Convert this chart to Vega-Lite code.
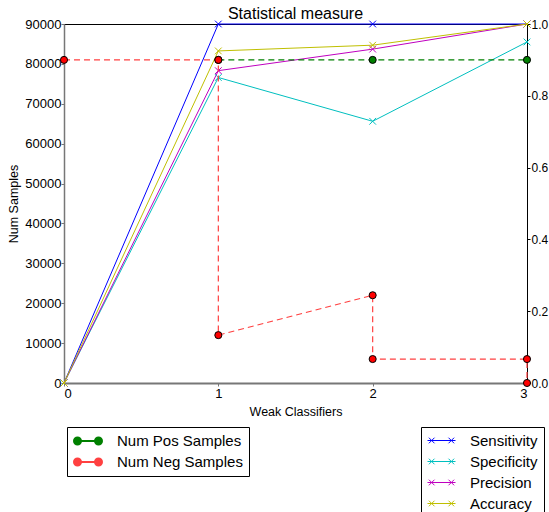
{
  "$schema": "https://vega.github.io/schema/vega-lite/v6.json",
  "autosize": {"type": "none"},
  "width": 463,
  "height": 359,
  "padding": {"left": 64, "top": 24, "right": 22, "bottom": 129},
  "background": "white",
  "config": {
    "font": "Liberation Sans",
    "view": {"stroke": "black", "strokeWidth": 1},
    "axis": {"grid": false, "labelFont": "Liberation Sans", "titleFont": "Liberation Sans", "labelColor": "black", "titleColor": "black", "titleFontWeight": "normal", "labelFontSize": 13, "titleFontSize": 12.5, "tickSize": 3}
  },
  "title": {"text": "Statistical measure", "font": "Liberation Sans", "fontSize": 16, "fontWeight": "normal", "color": "black", "offset": -4, "frame": "group"},
  "datasets": {
    "samples": [
      {"x": 1, "v": 81000, "s": "Num Pos Samples", "o": 1},
      {"x": 2, "v": 81000, "s": "Num Pos Samples", "o": 2},
      {"x": 3, "v": 81000, "s": "Num Pos Samples", "o": 3},
      {"x": 0, "v": 81000, "s": "Num Neg Samples", "o": 0},
      {"x": 1, "v": 81000, "s": "Num Neg Samples", "o": 1},
      {"x": 1, "v": 12000, "s": "Num Neg Samples", "o": 2},
      {"x": 2, "v": 22000, "s": "Num Neg Samples", "o": 3},
      {"x": 2, "v": 6000, "s": "Num Neg Samples", "o": 4},
      {"x": 3, "v": 6000, "s": "Num Neg Samples", "o": 5},
      {"x": 3, "v": 0, "s": "Num Neg Samples", "o": 6}
    ],
    "metrics": [
      {"x": 0, "m": 0, "s": "Sensitivity"},
      {"x": 1, "m": 1.0, "s": "Sensitivity"},
      {"x": 2, "m": 1.0, "s": "Sensitivity"},
      {"x": 3, "m": 1.0, "s": "Sensitivity"},
      {"x": 0, "m": 0, "s": "Specificity"},
      {"x": 1, "m": 0.851, "s": "Specificity"},
      {"x": 2, "m": 0.729, "s": "Specificity"},
      {"x": 3, "m": 0.95, "s": "Specificity"},
      {"x": 0, "m": 0, "s": "Precision"},
      {"x": 1, "m": 0.87, "s": "Precision"},
      {"x": 2, "m": 0.93, "s": "Precision"},
      {"x": 3, "m": 1.0, "s": "Precision"},
      {"x": 0, "m": 0, "s": "Accuracy"},
      {"x": 1, "m": 0.925, "s": "Accuracy"},
      {"x": 2, "m": 0.941, "s": "Accuracy"},
      {"x": 3, "m": 1.0, "s": "Accuracy"}
    ]
  },
  "layer": [
    {
      "data": {"name": "metrics"},
      "encoding": {
        "x": {"field": "x", "type": "quantitative", "scale": {"domain": [0, 3], "nice": false},
              "axis": {"title": "Weak Classifiers", "values": [0, 1, 2, 3], "format": "d", "domainColor": "#777777", "domainWidth": 2, "tickColor": "#777777", "labelPadding": 1, "titlePadding": 5}},
        "y": {"field": "m", "type": "quantitative", "scale": {"domain": [0, 1], "nice": false},
              "axis": {"orient": "right", "title": null, "values": [0, 0.2, 0.4, 0.6, 0.8, 1.0], "format": ".1f", "domainColor": "black", "tickColor": "black", "labelPadding": 1, "labelFontSize": 12}}
      },
      "layer": [
        {
          "mark": {"type": "line", "strokeWidth": 1},
          "encoding": {
            "color": {"field": "s", "type": "nominal",
              "scale": {"domain": ["Sensitivity", "Specificity", "Precision", "Accuracy"], "range": ["#0000ff", "#00bfbf", "#bf00bf", "#bfbf00"]},
              "legend": {"title": null, "orient": "none", "legendX": 357, "legendY": 403, "direction": "vertical",
                "strokeColor": "black", "fillColor": "white", "padding": 6, "cornerRadius": 0,
                "symbolType": "M-1,0L3,0M-0.8,-0.4L0,0.4M-0.8,0.4L0,-0.4M2,-0.4L2.8,0.4M2,0.4L2.8,-0.4",
                "symbolSize": 196, "symbolStrokeWidth": 1, "symbolFillColor": "transparent", "symbolOpacity": 1,
                "labelFont": "Liberation Sans", "labelFontSize": 15, "labelColor": "black", "labelOffset": 28, "rowPadding": 5}}
          }
        },
        {
          "mark": {"type": "point", "shape": "M-1,-1L1,1M-1,1L1,-1", "size": 45, "strokeWidth": 1, "filled": false, "opacity": 1},
          "encoding": {
            "stroke": {"field": "s", "type": "nominal",
              "scale": {"domain": ["Sensitivity", "Specificity", "Precision", "Accuracy"], "range": ["#0000ff", "#00bfbf", "#bf00bf", "#bfbf00"]},
              "legend": null}
          }
        }
      ]
    },
    {
      "data": {"name": "samples"},
      "encoding": {
        "x": {"field": "x", "type": "quantitative", "scale": {"domain": [0, 3], "nice": false}},
        "y": {"field": "v", "type": "quantitative", "scale": {"domain": [0, 90000], "nice": false},
              "axis": {"orient": "left", "title": "Num Samples", "values": [0, 10000, 20000, 30000, 40000, 50000, 60000, 70000, 80000, 90000], "format": "d", "domainColor": "#777777", "domainWidth": 1.5, "tickColor": "#777777", "labelPadding": 0, "titlePadding": 4}}
      },
      "layer": [
        {
          "mark": {"type": "line", "strokeWidth": 1.2, "strokeDash": [6, 4]},
          "encoding": {
            "order": {"field": "o", "type": "quantitative"},
            "color": {"field": "s", "type": "nominal",
              "scale": {"domain": ["Num Pos Samples", "Num Neg Samples"], "range": ["#008000", "#ff4040"]},
              "legend": {"title": null, "orient": "none", "legendX": 3, "legendY": 403, "direction": "vertical",
                "strokeColor": "black", "fillColor": "white", "padding": 6, "cornerRadius": 0,
                "symbolType": "M-1,0L3,0M-1,0a0.5,0.5 0 1,0 1,0a0.5,0.5 0 1,0 -1,0M-0.75,0a0.25,0.25 0 1,0 0.5,0a0.25,0.25 0 1,0 -0.5,0M2,0a0.5,0.5 0 1,0 1,0a0.5,0.5 0 1,0 -1,0M2.25,0a0.25,0.25 0 1,0 0.5,0a0.25,0.25 0 1,0 -0.5,0",
                "symbolSize": 196, "symbolStrokeWidth": 2, "symbolFillColor": "transparent", "symbolOpacity": 1,
                "labelFont": "Liberation Sans", "labelFontSize": 15, "labelColor": "black", "labelOffset": 28, "rowPadding": 5}}
          }
        },
        {
          "mark": {"type": "circle", "size": 50, "stroke": "black", "strokeWidth": 1, "opacity": 1},
          "encoding": {
            "fill": {"field": "s", "type": "nominal",
              "scale": {"domain": ["Num Pos Samples", "Num Neg Samples"], "range": ["#008000", "#ff0000"]},
              "legend": null}
          }
        }
      ]
    }
  ],
  "resolve": {"scale": {"y": "independent", "color": "independent", "stroke": "independent", "fill": "independent"}}
}
